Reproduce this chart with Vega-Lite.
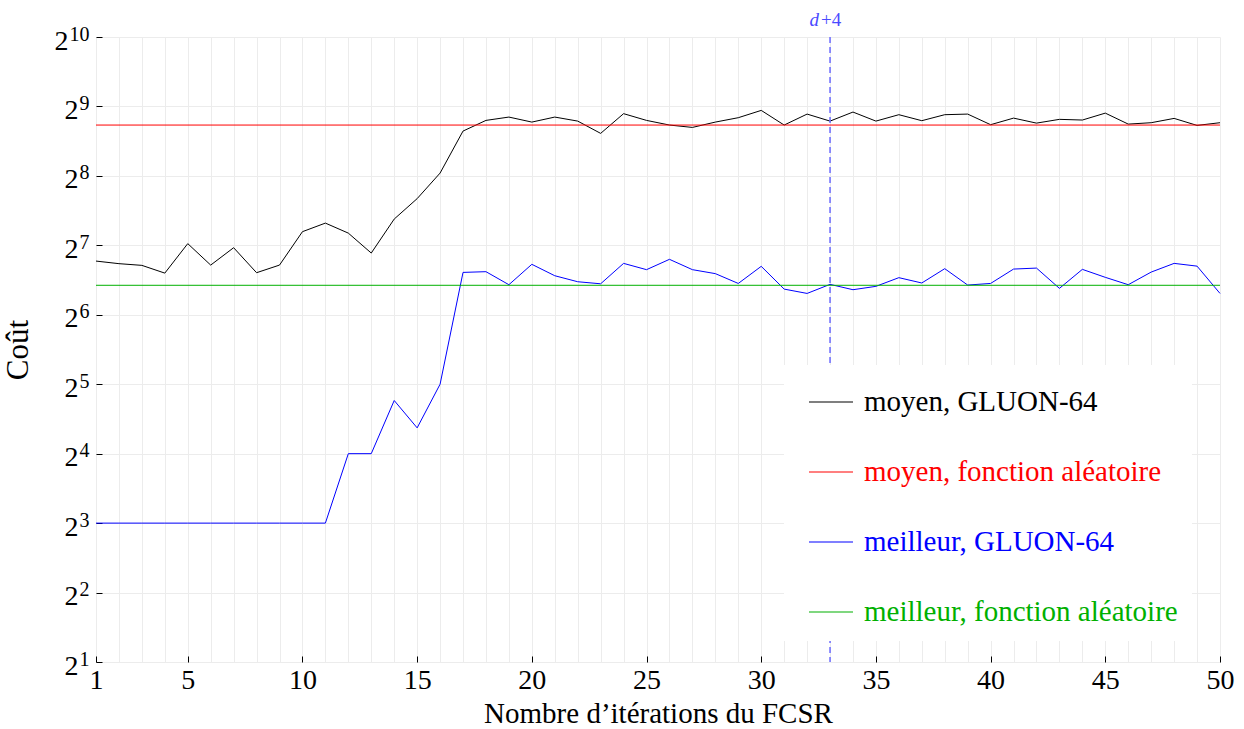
{
  "$schema": "https://vega.github.io/schema/vega-lite/v6.json",
  "width": 1124,
  "height": 625,
  "autosize": {"type": "none"},
  "padding": {"left": 96, "top": 37, "right": 24, "bottom": 67},
  "background": "white",
  "config": {"view": {"stroke": null}, "font": "Liberation Serif"},
  "datasets": {
    "series": [
      {"x":1,"cout":109.4,"serie":"moyen, GLUON-64"},{"x":2,"cout":106.6,"serie":"moyen, GLUON-64"},{"x":3,"cout":104.8,"serie":"moyen, GLUON-64"},{"x":4,"cout":97.0,"serie":"moyen, GLUON-64"},{"x":5,"cout":130.2,"serie":"moyen, GLUON-64"},{"x":6,"cout":105.1,"serie":"moyen, GLUON-64"},{"x":7,"cout":125.0,"serie":"moyen, GLUON-64"},{"x":8,"cout":97.4,"serie":"moyen, GLUON-64"},{"x":9,"cout":105.1,"serie":"moyen, GLUON-64"},{"x":10,"cout":146.7,"serie":"moyen, GLUON-64"},
      {"x":11,"cout":159.8,"serie":"moyen, GLUON-64"},{"x":12,"cout":144.6,"serie":"moyen, GLUON-64"},{"x":13,"cout":118.5,"serie":"moyen, GLUON-64"},{"x":14,"cout":166.4,"serie":"moyen, GLUON-64"},{"x":15,"cout":204.0,"serie":"moyen, GLUON-64"},{"x":16,"cout":263.3,"serie":"moyen, GLUON-64"},{"x":17,"cout":400.4,"serie":"moyen, GLUON-64"},{"x":18,"cout":445.4,"serie":"moyen, GLUON-64"},{"x":19,"cout":460.5,"serie":"moyen, GLUON-64"},{"x":20,"cout":438.0,"serie":"moyen, GLUON-64"},
      {"x":21,"cout":460.5,"serie":"moyen, GLUON-64"},{"x":22,"cout":442.3,"serie":"moyen, GLUON-64"},{"x":23,"cout":391.3,"serie":"moyen, GLUON-64"},{"x":24,"cout":476.4,"serie":"moyen, GLUON-64"},{"x":25,"cout":445.4,"serie":"moyen, GLUON-64"},{"x":26,"cout":425.2,"serie":"moyen, GLUON-64"},{"x":27,"cout":415.3,"serie":"moyen, GLUON-64"},{"x":28,"cout":438.0,"serie":"moyen, GLUON-64"},{"x":29,"cout":457.6,"serie":"moyen, GLUON-64"},{"x":30,"cout":492.2,"serie":"moyen, GLUON-64"},
      {"x":31,"cout":425.2,"serie":"moyen, GLUON-64"},{"x":32,"cout":474.4,"serie":"moyen, GLUON-64"},{"x":33,"cout":442.3,"serie":"moyen, GLUON-64"},{"x":34,"cout":484.1,"serie":"moyen, GLUON-64"},{"x":35,"cout":442.3,"serie":"moyen, GLUON-64"},{"x":36,"cout":471.5,"serie":"moyen, GLUON-64"},{"x":37,"cout":444.1,"serie":"moyen, GLUON-64"},{"x":38,"cout":471.5,"serie":"moyen, GLUON-64"},{"x":39,"cout":474.4,"serie":"moyen, GLUON-64"},{"x":40,"cout":426.7,"serie":"moyen, GLUON-64"},
      {"x":41,"cout":455.7,"serie":"moyen, GLUON-64"},{"x":42,"cout":433.5,"serie":"moyen, GLUON-64"},{"x":43,"cout":450.1,"serie":"moyen, GLUON-64"},{"x":44,"cout":447.0,"serie":"moyen, GLUON-64"},{"x":45,"cout":479.0,"serie":"moyen, GLUON-64"},{"x":46,"cout":429.3,"serie":"moyen, GLUON-64"},{"x":47,"cout":435.3,"serie":"moyen, GLUON-64"},{"x":48,"cout":454.4,"serie":"moyen, GLUON-64"},{"x":49,"cout":423.7,"serie":"moyen, GLUON-64"},{"x":50,"cout":435.3,"serie":"moyen, GLUON-64"},
      {"x":1,"cout":425.2,"serie":"moyen, fonction aléatoire"},{"x":50,"cout":425.2,"serie":"moyen, fonction aléatoire"},
      {"x":1,"cout":8,"serie":"meilleur, GLUON-64"},{"x":2,"cout":8,"serie":"meilleur, GLUON-64"},{"x":3,"cout":8,"serie":"meilleur, GLUON-64"},{"x":4,"cout":8,"serie":"meilleur, GLUON-64"},{"x":5,"cout":8,"serie":"meilleur, GLUON-64"},{"x":6,"cout":8,"serie":"meilleur, GLUON-64"},{"x":7,"cout":8,"serie":"meilleur, GLUON-64"},{"x":8,"cout":8,"serie":"meilleur, GLUON-64"},{"x":9,"cout":8,"serie":"meilleur, GLUON-64"},{"x":10,"cout":8,"serie":"meilleur, GLUON-64"},
      {"x":11,"cout":8,"serie":"meilleur, GLUON-64"},{"x":12,"cout":16,"serie":"meilleur, GLUON-64"},{"x":13,"cout":16,"serie":"meilleur, GLUON-64"},{"x":14,"cout":27.2,"serie":"meilleur, GLUON-64"},{"x":15,"cout":20.7,"serie":"meilleur, GLUON-64"},{"x":16,"cout":32,"serie":"meilleur, GLUON-64"},{"x":17,"cout":97.7,"serie":"meilleur, GLUON-64"},{"x":18,"cout":98.4,"serie":"meilleur, GLUON-64"},{"x":19,"cout":86.4,"serie":"meilleur, GLUON-64"},{"x":20,"cout":105.9,"serie":"meilleur, GLUON-64"},
      {"x":21,"cout":94.5,"serie":"meilleur, GLUON-64"},{"x":22,"cout":89.0,"serie":"meilleur, GLUON-64"},{"x":23,"cout":87.2,"serie":"meilleur, GLUON-64"},{"x":24,"cout":106.9,"serie":"meilleur, GLUON-64"},{"x":25,"cout":100.4,"serie":"meilleur, GLUON-64"},{"x":26,"cout":111.3,"serie":"meilleur, GLUON-64"},{"x":27,"cout":100.4,"serie":"meilleur, GLUON-64"},{"x":28,"cout":96.5,"serie":"meilleur, GLUON-64"},{"x":29,"cout":87.5,"serie":"meilleur, GLUON-64"},{"x":30,"cout":103.8,"serie":"meilleur, GLUON-64"},
      {"x":31,"cout":82.7,"serie":"meilleur, GLUON-64"},{"x":32,"cout":79.2,"serie":"meilleur, GLUON-64"},{"x":33,"cout":86.7,"serie":"meilleur, GLUON-64"},{"x":34,"cout":82.2,"serie":"meilleur, GLUON-64"},{"x":35,"cout":85.0,"serie":"meilleur, GLUON-64"},{"x":36,"cout":92.7,"serie":"meilleur, GLUON-64"},{"x":37,"cout":87.9,"serie":"meilleur, GLUON-64"},{"x":38,"cout":101.4,"serie":"meilleur, GLUON-64"},{"x":39,"cout":86.1,"serie":"meilleur, GLUON-64"},{"x":40,"cout":87.5,"serie":"meilleur, GLUON-64"},
      {"x":41,"cout":101.0,"serie":"meilleur, GLUON-64"},{"x":42,"cout":102.0,"serie":"meilleur, GLUON-64"},{"x":43,"cout":83.3,"serie":"meilleur, GLUON-64"},{"x":44,"cout":100.7,"serie":"meilleur, GLUON-64"},{"x":45,"cout":93.0,"serie":"meilleur, GLUON-64"},{"x":46,"cout":86.4,"serie":"meilleur, GLUON-64"},{"x":47,"cout":98.0,"serie":"meilleur, GLUON-64"},{"x":48,"cout":106.9,"serie":"meilleur, GLUON-64"},{"x":49,"cout":104.0,"serie":"meilleur, GLUON-64"},{"x":50,"cout":79.2,"serie":"meilleur, GLUON-64"},
      {"x":1,"cout":85.9,"serie":"meilleur, fonction aléatoire"},{"x":50,"cout":85.9,"serie":"meilleur, fonction aléatoire"}
    ],
    "marque": [{"x": 33, "d": "d", "p": "+4"}]
  },
  "resolve": {"axis": {"x": "independent", "y": "independent"}},
  "layer": [
    {
      "data": {"name": "series"},
      "mark": {"type": "line", "strokeWidth": 1},
      "encoding": {
        "x": {
          "field": "x", "type": "quantitative",
          "scale": {"domain": [1, 50], "nice": false, "zero": false},
          "axis": {
            "orient": "bottom", "title": null,
            "values": [1,2,3,4,5,6,7,8,9,10,11,12,13,14,15,16,17,18,19,20,21,22,23,24,25,26,27,28,29,30,31,32,33,34,35,36,37,38,39,40,41,42,43,44,45,46,47,48,49,50],
            "grid": true, "gridColor": "#ececec", "gridWidth": 1,
            "domain": false, "ticks": false, "labels": false
          }
        },
        "y": {
          "field": "cout", "type": "quantitative",
          "scale": {"type": "log", "base": 2, "domain": [2, 1024], "nice": false},
          "axis": {
            "orient": "left",
            "title": "Coût",
            "values": [2,4,8,16,32,64,128,256,512,1024],
            "grid": true, "gridColor": "#ececec", "gridWidth": 1,
            "domain": false,
            "ticks": true, "tickSize": -6, "tickWidth": 1, "tickColor": "#000000",
            "labelExpr": "'2'",
            "labelOverlap": false, "labelFlush": false,
            "labelFont": "Liberation Serif", "labelFontSize": 28, "labelColor": "#000000",
            "labelPadding": {"condition": {"test": "datum.value === 1024", "value": 34}, "value": 24},
            "labelOffset": 4,
            "titleFont": "Liberation Serif", "titleFontSize": 31, "titleFontWeight": "normal", "titleColor": "#000000", "titlePadding": 20
          }
        },
        "color": {
          "field": "serie", "type": "nominal",
          "scale": {
            "domain": ["moyen, GLUON-64", "moyen, fonction aléatoire", "meilleur, GLUON-64", "meilleur, fonction aléatoire"],
            "range": ["#000000", "#ff0000", "#0000ff", "#00b000"]
          },
          "legend": {
            "title": null, "orient": "none", "legendX": 688, "legendY": 328,
            "fillColor": "white", "strokeColor": null, "padding": 14,
            "symbolSize": 1936, "symbolStrokeWidth": 1.2, "symbolOffset": 10,
            "labelFont": "Liberation Serif", "labelFontSize": 29, "labelOffset": 10, "labelLimit": 600,
            "rowPadding": 32,
            "encode": {
              "labels": {"update": {"fill": {"scale": "color", "field": "value"}}}
            }
          }
        }
      }
    },
    {
      "data": {"name": "marque"},
      "mark": {"type": "rule", "color": "#6b6bff", "strokeDash": [6, 4], "strokeWidth": 1.5},
      "encoding": {
        "x": {
          "field": "x", "type": "quantitative",
          "axis": {
            "orient": "bottom",
            "title": "Nombre d’itérations du FCSR",
            "values": [1, 5, 10, 15, 20, 25, 30, 35, 40, 45, 50],
            "grid": false, "domain": false,
            "ticks": true, "tickSize": -6, "tickWidth": 1, "tickColor": "#000000",
            "labelOverlap": false, "labelFlush": false, "labelBound": false,
            "labelFont": "Liberation Serif", "labelFontSize": 28, "labelColor": "#000000", "labelPadding": 10,
            "titleFont": "Liberation Serif", "titleFontSize": 29, "titleFontWeight": "normal", "titleColor": "#000000", "titlePadding": 5
          }
        }
      }
    },
    {
      "data": {"name": "marque"},
      "mark": {"type": "text", "font": "Liberation Serif", "fontStyle": "italic", "fontSize": 19, "align": "right", "baseline": "alphabetic", "dx": -11, "dy": -11, "color": "#4a4aff"},
      "encoding": {
        "x": {"field": "x", "type": "quantitative", "axis": null},
        "y": {
          "datum": 1024, "type": "quantitative",
          "axis": {
            "orient": "left", "title": null,
            "values": [2,4,8,16,32,64,128,256,512,1024],
            "grid": false, "domain": false,
            "ticks": true, "tickSize": -6, "tickColor": "transparent",
            "labelExpr": "'' + round(log(datum.value)/LN2)",
            "labelOverlap": false, "labelFlush": false,
            "labelFont": "Liberation Serif", "labelFontSize": 20, "labelColor": "#000000",
            "labelPadding": 13, "labelOffset": -3
          }
        },
        "text": {"field": "d"}
      }
    },
    {
      "data": {"name": "marque"},
      "mark": {"type": "text", "font": "Liberation Serif", "fontSize": 19, "align": "left", "baseline": "alphabetic", "dx": -9, "dy": -11, "color": "#4a4aff"},
      "encoding": {
        "x": {"field": "x", "type": "quantitative", "axis": null},
        "y": {"datum": 1024, "type": "quantitative", "axis": null},
        "text": {"field": "p"}
      }
    }
  ]
}
